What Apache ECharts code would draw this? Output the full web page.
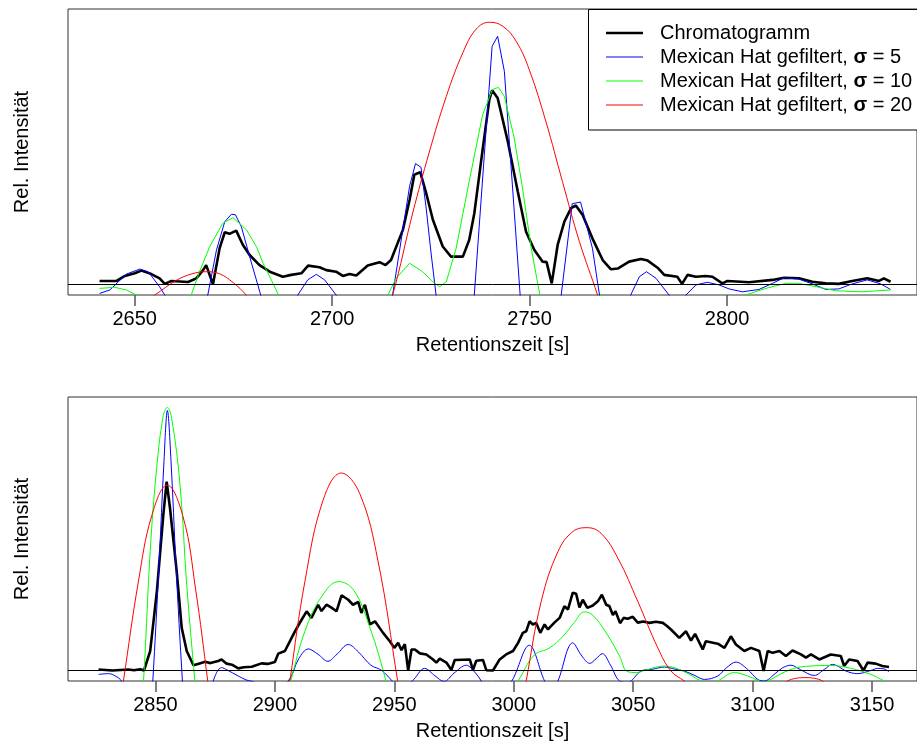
<!DOCTYPE html>
<html>
<head>
<meta charset="utf-8">
<title>Mexican Hat Filterung</title>
<script src="https://cdn.jsdelivr.net/npm/echarts@6/dist/echarts.min.js"></script>
<style>
  html, body { margin: 0; padding: 0; background: #fff; }
  #chart { width: 917px; height: 742px; }
</style>
</head>
<body>
<div id="chart"></div>
<script>
// ---------- Oberes Fenster: 2640 - 2845 s ----------
const ticksTop = [2650, 2700, 2750, 2800];

const chromTopT = [2641.1, 2645.4, 2647.5, 2650.0, 2651.7, 2654.2, 2656.3, 2657.6, 2659.3, 2663.5, 2665.6, 2667.3, 2668.1, 2669.8, 2671.5, 2672.8, 2674.0, 2675.7, 2677.4, 2679.1, 2681.6, 2684.2, 2687.5, 2689.6, 2692.2, 2693.9, 2696.8, 2698.5, 2701.0, 2702.7, 2704.4, 2706.1, 2709.0, 2712.0, 2713.5, 2714.9, 2717.9, 2719.6, 2720.8, 2722.3, 2723.8, 2725.5, 2728.0, 2730.1, 2733.1, 2734.7, 2736.0, 2738.1, 2739.8, 2740.5, 2741.9, 2744.4, 2747.0, 2749.1, 2751.2, 2753.3, 2754.3, 2755.6, 2757.1, 2758.8, 2760.5, 2761.7, 2763.4, 2765.9, 2768.5, 2770.6, 2772.3, 2775.2, 2778.2, 2779.9, 2782.4, 2784.1, 2787.4, 2788.6, 2790.0, 2792.1, 2794.6, 2796.3, 2798.8, 2800.1, 2805.6, 2811.5, 2814.4, 2818.2, 2821.6, 2825.0, 2828.3, 2831.7, 2835.5, 2838.5, 2839.7, 2841.4];
const chromTopV = [0.013, 0.013, 0.032, 0.042, 0.052, 0.039, 0.023, 0.002, 0.013, 0.009, 0.023, 0.054, 0.073, 0.000, 0.137, 0.197, 0.191, 0.203, 0.149, 0.111, 0.073, 0.048, 0.029, 0.036, 0.042, 0.071, 0.065, 0.054, 0.048, 0.032, 0.039, 0.034, 0.071, 0.084, 0.073, 0.092, 0.206, 0.319, 0.414, 0.424, 0.345, 0.244, 0.143, 0.105, 0.105, 0.168, 0.269, 0.509, 0.698, 0.733, 0.704, 0.545, 0.351, 0.199, 0.130, 0.086, 0.084, 0.004, 0.149, 0.237, 0.288, 0.298, 0.263, 0.174, 0.092, 0.057, 0.060, 0.086, 0.096, 0.090, 0.063, 0.036, 0.029, 0.002, 0.036, 0.029, 0.032, 0.029, 0.004, 0.013, 0.008, 0.017, 0.025, 0.023, 0.010, 0.004, 0.002, 0.013, 0.023, 0.013, 0.023, 0.010];

const mh5TopT = [2641.1, 2643.7, 2647.9, 2651.3, 2653.4, 2656.3, 2657.6, 2659.5, 2663.0, 2666.5, 2668.5, 2670.7, 2672.8, 2674.5, 2675.5, 2677.0, 2679.1, 2681.9, 2684.0, 2687.0, 2690.0, 2691.3, 2693.8, 2696.0, 2698.1, 2701.0, 2704.0, 2708.0, 2712.0, 2715.3, 2719.6, 2721.1, 2722.5, 2723.8, 2725.1, 2728.0, 2731.0, 2734.5, 2740.5, 2741.9, 2743.6, 2749.0, 2752.5, 2756.5, 2760.8, 2762.9, 2765.9, 2767.7, 2770.0, 2773.0, 2775.6, 2777.8, 2779.6, 2782.0, 2785.3, 2787.5, 2789.6, 2792.1, 2795.0, 2798.0, 2800.5, 2803.9, 2808.1, 2811.5, 2814.4, 2818.2, 2821.6, 2825.0, 2828.3, 2831.7, 2835.5, 2838.9, 2841.4];
const mh5TopV = [-0.034, -0.021, 0.039, 0.058, 0.048, -0.009, -0.040, -0.10, -0.15, -0.10, -0.040, 0.130, 0.237, 0.265, 0.263, 0.218, 0.105, -0.040, -0.12, -0.15, -0.10, -0.040, 0.017, 0.038, 0.017, -0.040, -0.12, -0.15, -0.12, -0.040, 0.370, 0.456, 0.442, 0.288, 0.111, -0.25, -0.35, -0.35, 0.899, 0.937, 0.805, -0.335, -0.42, -0.225, 0.305, 0.311, 0.137, -0.040, -0.15, -0.12, -0.040, 0.029, 0.048, 0.023, -0.040, -0.09, -0.040, -0.002, 0.008, -0.002, -0.017, -0.028, -0.019, 0.004, 0.025, 0.020, 0.002, -0.019, -0.017, 0.002, 0.017, 0.002, -0.019];

const mh10TopT = [2641.1, 2644.9, 2647.9, 2650.4, 2654.0, 2658.0, 2662.0, 2664.3, 2666.4, 2669.0, 2672.3, 2674.9, 2678.3, 2680.8, 2682.5, 2684.6, 2686.4, 2690.0, 2697.0, 2705.0, 2711.0, 2714.1, 2716.2, 2719.6, 2722.9, 2725.5, 2727.2, 2728.9, 2731.4, 2734.7, 2738.1, 2740.6, 2742.1, 2743.6, 2746.1, 2748.2, 2750.4, 2752.6, 2756.0, 2762.0, 2766.0, 2768.3, 2771.0, 2780.0, 2795.0, 2804.7, 2809.8, 2814.9, 2818.2, 2823.3, 2827.5, 2834.2, 2841.4];
const mh10TopV = [-0.015, -0.011, -0.021, -0.040, -0.15, -0.20, -0.12, -0.040, 0.048, 0.143, 0.231, 0.252, 0.206, 0.143, 0.080, 0.017, -0.040, -0.15, -0.22, -0.18, -0.10, -0.040, 0.023, 0.080, 0.048, 0.010, -0.009, 0.010, 0.137, 0.389, 0.641, 0.736, 0.744, 0.710, 0.553, 0.364, 0.137, -0.040, -0.15, -0.10, -0.06, -0.038, -0.06, -0.15, -0.12, -0.040, -0.015, 0.004, 0.004, -0.011, -0.024, -0.028, -0.021];

const mh20TopT = [2641.1, 2648.0, 2655.1, 2660.5, 2664.5, 2668.1, 2671.5, 2674.9, 2678.2, 2684.0, 2697.0, 2710.0, 2715.3, 2720.4, 2724.6, 2728.9, 2733.1, 2736.4, 2739.8, 2743.2, 2746.6, 2749.9, 2754.1, 2758.3, 2762.6, 2767.2, 2772.0, 2790.0, 2841.4];
const mh20TopV = [-0.22, -0.11, -0.040, 0.015, 0.040, 0.048, 0.040, 0.007, -0.040, -0.15, -0.33, -0.28, -0.040, 0.270, 0.500, 0.710, 0.875, 0.963, 0.990, 0.975, 0.918, 0.811, 0.616, 0.389, 0.162, -0.040, -0.27, -0.45, -0.20];

// ---------- Unteres Fenster: 2825 - 3160 s ----------
const ticksBottom = [2850, 2900, 2950, 3000, 3050, 3100, 3150];

const chromBotT = [2826.2, 2832.0, 2838.7, 2841.0, 2843.6, 2845.2, 2847.8, 2850.6, 2853.3, 2854.7, 2856.1, 2858.9, 2861.0, 2863.1, 2865.9, 2868.5, 2870.8, 2873.0, 2876.3, 2877.7, 2879.8, 2882.0, 2884.7, 2887.0, 2890.3, 2894.4, 2897.0, 2900.0, 2901.4, 2904.2, 2908.4, 2911.0, 2913.3, 2915.3, 2918.1, 2919.5, 2921.6, 2923.5, 2925.8, 2927.9, 2930.7, 2932.7, 2934.9, 2936.2, 2937.7, 2939.8, 2941.9, 2945.3, 2948.1, 2950.0, 2951.6, 2953.0, 2954.4, 2955.8, 2957.2, 2958.6, 2960.7, 2963.4, 2966.2, 2967.6, 2969.0, 2971.8, 2973.9, 2975.3, 2981.6, 2982.9, 2984.3, 2987.1, 2988.5, 2991.3, 2994.1, 2996.8, 2999.7, 3001.8, 3003.8, 3005.2, 3006.6, 3008.0, 3009.4, 3011.1, 3012.9, 3014.3, 3017.1, 3019.2, 3021.2, 3022.7, 3024.7, 3026.1, 3027.5, 3028.9, 3030.8, 3033.1, 3035.2, 3036.9, 3038.7, 3040.0, 3041.5, 3042.6, 3044.5, 3046.0, 3047.7, 3049.8, 3051.9, 3054.2, 3056.8, 3059.5, 3062.4, 3064.0, 3065.8, 3069.3, 3072.1, 3074.2, 3075.9, 3079.1, 3080.4, 3085.4, 3088.2, 3090.9, 3093.0, 3096.5, 3099.3, 3102.8, 3104.6, 3106.3, 3108.4, 3111.2, 3113.9, 3116.7, 3120.2, 3122.3, 3124.4, 3127.9, 3132.7, 3136.9, 3138.3, 3140.4, 3143.9, 3146.4, 3148.1, 3151.5, 3154.3, 3157.1];
const chromBotV = [0.004, 0.000, 0.004, 0.001, 0.005, 0.000, 0.074, 0.301, 0.592, 0.718, 0.617, 0.377, 0.162, 0.074, 0.020, 0.027, 0.033, 0.028, 0.036, 0.042, 0.026, 0.022, 0.008, 0.012, 0.014, 0.027, 0.025, 0.032, 0.064, 0.074, 0.149, 0.190, 0.225, 0.200, 0.250, 0.226, 0.250, 0.240, 0.225, 0.286, 0.269, 0.250, 0.261, 0.219, 0.250, 0.175, 0.187, 0.143, 0.111, 0.086, 0.105, 0.077, 0.100, 0.000, 0.080, 0.080, 0.065, 0.061, 0.042, 0.030, 0.045, 0.030, 0.002, 0.040, 0.042, 0.002, 0.037, 0.040, 0.001, 0.000, 0.042, 0.061, 0.074, 0.105, 0.143, 0.149, 0.187, 0.175, 0.181, 0.143, 0.175, 0.156, 0.183, 0.200, 0.244, 0.232, 0.296, 0.292, 0.240, 0.269, 0.238, 0.247, 0.263, 0.288, 0.250, 0.245, 0.211, 0.225, 0.180, 0.200, 0.197, 0.204, 0.182, 0.186, 0.181, 0.185, 0.181, 0.170, 0.156, 0.124, 0.149, 0.114, 0.139, 0.080, 0.111, 0.102, 0.086, 0.130, 0.099, 0.074, 0.086, 0.074, -0.002, 0.074, 0.067, 0.074, 0.055, 0.076, 0.061, 0.049, 0.061, 0.042, 0.061, 0.055, 0.017, 0.042, 0.036, 0.000, 0.030, 0.026, 0.017, 0.013];

const mh5BotT = [2826.2, 2830.4, 2833.2, 2835.7, 2839.0, 2846.0, 2848.9, 2851.5, 2853.6, 2855.0, 2856.5, 2858.6, 2861.3, 2864.0, 2870.0, 2874.2, 2877.7, 2880.0, 2884.7, 2888.0, 2891.7, 2898.0, 2905.6, 2910.0, 2914.0, 2918.0, 2922.2, 2926.0, 2930.7, 2935.0, 2940.2, 2944.6, 2948.8, 2952.0, 2957.5, 2962.7, 2967.0, 2970.8, 2975.0, 2980.1, 2984.0, 2986.4, 2992.0, 2999.2, 3006.5, 3012.9, 3016.0, 3018.5, 3024.7, 3028.5, 3031.8, 3034.5, 3037.1, 3040.5, 3044.3, 3047.7, 3053.3, 3058.2, 3063.1, 3067.5, 3071.4, 3076.0, 3079.8, 3085.4, 3089.0, 3093.0, 3097.9, 3102.1, 3104.9, 3109.0, 3112.5, 3116.0, 3120.0, 3125.8, 3130.0, 3133.4, 3136.0, 3139.0, 3143.9, 3149.5, 3152.3, 3155.0, 3157.1];
const mh5BotV = [-0.015, -0.012, -0.021, -0.040, -0.15, -0.45, -0.040, 0.40, 0.80, 0.989, 0.80, 0.40, -0.040, -0.40, -0.20, -0.040, 0.011, 0.002, -0.021, -0.036, -0.045, -0.08, -0.040, 0.045, 0.082, 0.062, 0.035, 0.062, 0.099, 0.070, 0.020, 0.001, -0.037, -0.07, -0.040, 0.008, -0.020, -0.042, -0.010, 0.020, -0.010, -0.040, -0.12, -0.040, 0.096, -0.040, -0.08, -0.040, 0.105, 0.055, 0.027, 0.045, 0.064, 0.020, -0.040, -0.045, -0.002, 0.005, 0.013, 0.005, -0.002, -0.020, -0.034, -0.021, 0.010, 0.032, 0.004, -0.034, -0.040, -0.015, 0.010, 0.020, 0.003, -0.019, 0.004, 0.023, 0.015, -0.002, -0.012, 0.000, 0.008, 0.006, -0.005];

const mh10BotT = [2826.2, 2833.0, 2841.5, 2845.0, 2847.8, 2850.5, 2853.3, 2855.0, 2856.8, 2860.3, 2863.1, 2866.5, 2870.0, 2885.0, 2901.5, 2906.6, 2912.6, 2919.5, 2926.7, 2933.0, 2939.5, 2946.5, 2951.0, 2970.0, 2994.0, 3001.8, 3008.5, 3015.0, 3020.6, 3025.2, 3029.6, 3033.1, 3038.7, 3044.3, 3047.4, 3051.5, 3055.4, 3063.1, 3071.4, 3078.4, 3082.0, 3085.4, 3092.4, 3097.9, 3102.8, 3104.5, 3106.3, 3116.0, 3124.4, 3132.7, 3141.1, 3149.5, 3155.1, 3157.1];
const mh10BotV = [-0.12, -0.35, -0.45, -0.040, 0.452, 0.768, 0.970, 1.000, 0.958, 0.705, 0.326, -0.040, -0.40, -0.55, -0.20, -0.040, 0.150, 0.280, 0.338, 0.305, 0.170, -0.040, -0.22, -0.45, -0.14, -0.040, 0.058, 0.086, 0.130, 0.181, 0.223, 0.210, 0.143, 0.055, -0.003, -0.008, 0.002, 0.017, -0.005, -0.040, -0.050, -0.040, -0.008, -0.021, -0.040, -0.045, -0.040, 0.004, 0.017, 0.019, 0.008, -0.015, -0.040, -0.050];

const mh20BotT = [2826.2, 2832.0, 2836.6, 2842.9, 2848.5, 2854.9, 2861.7, 2866.8, 2871.9, 2876.0, 2889.0, 2902.0, 2906.3, 2912.6, 2920.2, 2927.8, 2935.5, 2943.2, 2951.4, 2956.0, 2978.0, 3000.0, 3005.2, 3011.5, 3018.5, 3024.7, 3030.7, 3036.5, 3043.6, 3051.9, 3060.3, 3065.8, 3071.4, 3080.0, 3095.0, 3110.0, 3114.6, 3118.0, 3122.3, 3126.0, 3129.3, 3140.0, 3157.1];
const mh20BotV = [-0.55, -0.32, -0.040, 0.340, 0.590, 0.705, 0.580, 0.310, -0.040, -0.33, -0.55, -0.33, -0.040, 0.340, 0.648, 0.751, 0.673, 0.415, -0.040, -0.30, -0.55, -0.30, -0.040, 0.263, 0.452, 0.528, 0.543, 0.522, 0.427, 0.263, 0.086, -0.002, -0.040, -0.10, -0.13, -0.07, -0.040, -0.030, -0.027, -0.030, -0.040, -0.10, -0.15];

// ---------- Darstellung ----------
const NAMES = ['Chromatogramm', 'Mexican Hat gefiltert, σ = 5', 'Mexican Hat gefiltert, σ = 10', 'Mexican Hat gefiltert, σ = 20'];
const COLORS = ['#000000', '#0000ff', '#00ff00', '#ff0000'];
const FONT = '"Liberation Sans", Arial, Helvetica, sans-serif';
// Legendensymbole: reine Linien (unsichtbare Eckpunkte legen die Symbolgröße fest)
const ICON_THICK = 'path://M0,0M37,20M0,8.7H37V11.3H0Z';
const ICON_THIN = 'path://M0,0M37,20M0,9.5H37V10.5H0Z';

const pairs = (t, v) => t.map((x, i) => [x, v[i]]);

function xAxisFor(grid, min, max, ticks) {
  return {
    type: 'value', gridIndex: grid, min: min, max: max,
    axisLine: { show: false, onZero: false },
    splitLine: { show: false },
    axisTick: { show: true, inside: false, length: 11, customValues: ticks,
                lineStyle: { color: '#555', width: 1.5 } },
    axisLabel: { show: true, customValues: ticks, margin: 14, fontSize: 20,
                 fontFamily: FONT, color: '#000', formatter: (v) => String(v) },
    name: 'Retentionszeit [s]', nameLocation: 'middle', nameGap: 40,
    nameTextStyle: { fontSize: 20, fontFamily: FONT, color: '#000' }
  };
}
function yAxisFor(grid) {
  return {
    type: 'value', gridIndex: grid, min: -0.04, max: 1.04,
    axisLine: { show: false, onZero: false }, axisTick: { show: false },
    axisLabel: { show: false }, splitLine: { show: false },
    name: 'Rel. Intensität', nameLocation: 'middle', nameRotate: 90, nameGap: 36,
    nameTextStyle: { fontSize: 20, fontFamily: FONT, color: '#000' }
  };
}
function lineSeries(idx, axis, data, smooth, withZero) {
  const s = {
    name: NAMES[idx], type: 'line', xAxisIndex: axis, yAxisIndex: axis,
    data: data, symbol: 'none', showSymbol: false, clip: true,
    smooth: smooth,
    lineStyle: { color: COLORS[idx], width: idx === 0 ? 2.6 : 1 },
    itemStyle: { color: COLORS[idx] },
    z: 2, silent: true
  };
  if (withZero) {
    s.markLine = {
      silent: true, symbol: ['none', 'none'], label: { show: false },
      lineStyle: { color: '#000', width: 1, type: 'solid' },
      data: [{ yAxis: 0 }]
    };
  }
  return s;
}

const chart = echarts.init(document.getElementById('chart'), null, { renderer: 'canvas' });
chart.setOption({
  animation: false,
  backgroundColor: '#ffffff',
  textStyle: { fontFamily: FONT },
  grid: [
    { left: 68, top: 9, width: 850, height: 286, show: true, borderColor: '#333', borderWidth: 1 },
    { left: 68, top: 397, width: 850, height: 285, show: true, borderColor: '#333', borderWidth: 1 }
  ],
  xAxis: [
    xAxisFor(0, 2633.1, 2848.1, ticksTop),
    xAxisFor(1, 2813.4, 3168.8, ticksBottom)
  ],
  yAxis: [yAxisFor(0), yAxisFor(1)],
  graphic: [{
    type: 'rect', z: 5, silent: true,
    shape: { x: 588.5, y: 9.5, width: 360, height: 120.5 },
    style: { fill: '#ffffff', stroke: '#000000', lineWidth: 1 }
  }],
  legend: {
    show: true, orient: 'vertical', left: 588, top: 9, z: 6,
    data: NAMES.map((n, i) => ({ name: n, icon: i === 0 ? ICON_THICK : ICON_THIN })),
    itemWidth: 37, itemHeight: 20, itemGap: 4,
    padding: [14, 10, 15, 18],
    selectedMode: false,
    formatter: (name) => name.replace('σ', '{s|σ}'),
    textStyle: {
      fontSize: 20, fontFamily: FONT, color: '#000', lineHeight: 20,
      padding: [0, 0, 0, 12],
      rich: { s: { fontSize: 20, fontWeight: 'bold', fontFamily: FONT, color: '#000' } }
    }
  },
  series: [
    lineSeries(0, 0, pairs(chromTopT, chromTopV), false, true),
    lineSeries(1, 0, pairs(mh5TopT, mh5TopV), false, false),
    lineSeries(2, 0, pairs(mh10TopT, mh10TopV), false, false),
    lineSeries(3, 0, pairs(mh20TopT, mh20TopV), 0.4, false),
    lineSeries(0, 1, pairs(chromBotT, chromBotV), false, true),
    lineSeries(1, 1, pairs(mh5BotT, mh5BotV), 0.35, false),
    lineSeries(2, 1, pairs(mh10BotT, mh10BotV), 0.4, false),
    lineSeries(3, 1, pairs(mh20BotT, mh20BotV), 0.4, false)
  ]
});
</script>
</body>
</html>
